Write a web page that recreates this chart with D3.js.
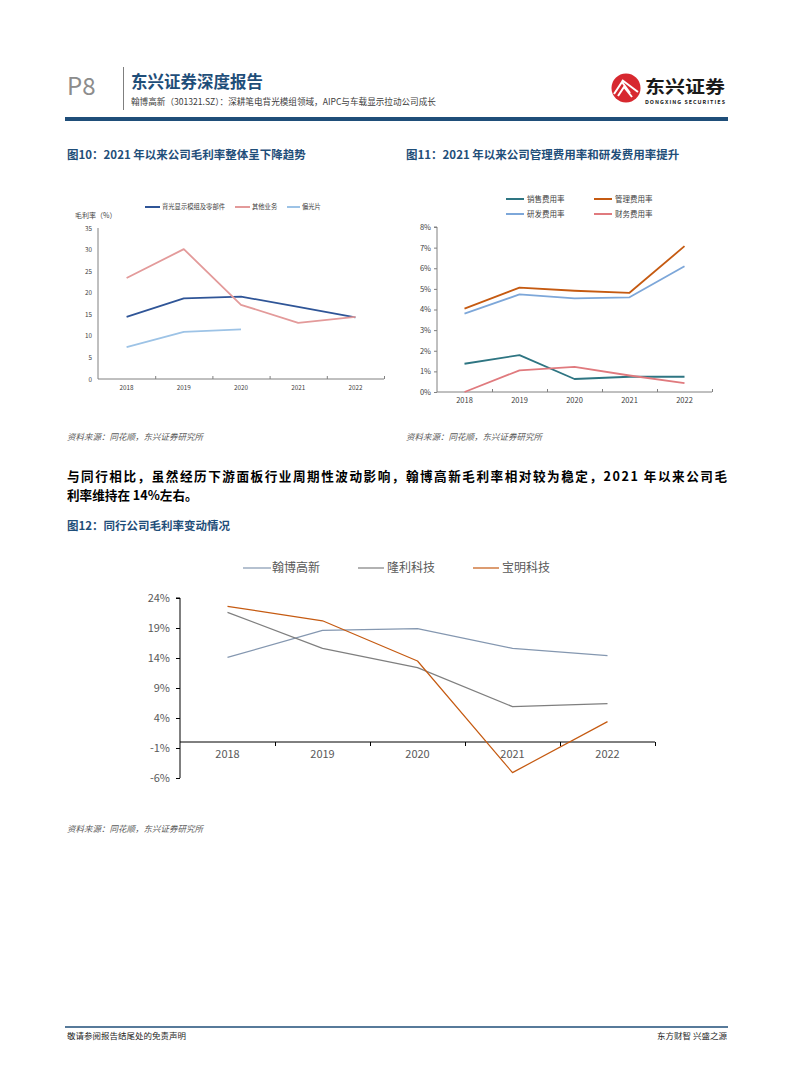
<!DOCTYPE html>
<html><head><meta charset="utf-8">
<script src="https://cdn.jsdelivr.net/npm/d3@7"></script>
<style>
body{margin:0;background:#fff;}
svg{display:block;}
text{font-family:"Noto Sans CJK SC","Noto Sans",sans-serif;}
</style></head>
<body>
<svg id="page" width="794" height="1077"></svg>
<script>
// ---------------- DATA ----------------
const years = ["2018","2019","2020","2021","2022"];

// Figure 10: gross margin by segment (%)
const f10Series = ["背光显示模组及零部件","其他业务","偏光片"];
const f10Backlight = [14.4, 18.7, 19.1, 16.7, 14.3];
const f10Other = [23.4, 30.1, 17.2, 13.0, 14.4];
const f10Polarizer = [7.4, 10.9, 11.5, null, null];
const f10Ticks = [0,5,10,15,20,25,30,35];

// Figure 11: expense ratios (%)
const f11Series = ["销售费用率","管理费用率","研发费用率","财务费用率"];
const f11Sales = [1.37, 1.79, 0.63, 0.74, 0.74];
const f11Admin = [4.04, 5.06, 4.91, 4.81, 7.07];
const f11RD = [3.80, 4.73, 4.54, 4.59, 6.10];
const f11Fin = [0.00, 1.05, 1.22, 0.80, 0.43];
const f11Ticks = [0,1,2,3,4,5,6,7,8];

// Figure 12: peers gross margin (%)
const f12Series = ["翰博高新","隆利科技","宝明科技"];
const f12Hanbo = [14.1, 18.6, 18.9, 15.6, 14.4];
const f12Longli = [21.6, 15.6, 12.4, 5.9, 6.4];
const f12Baoming = [22.6, 20.2, 13.5, -5.1, 3.4];
const f12Ticks = [24,19,14,9,4,-1,-6];

// ---------------- PAGE ----------------
const svg = d3.select("#page");
const navy = "#1F4E79";

// header
svg.append("text").attr("x",67).attr("y",95).attr("font-size",24).attr("fill","#8c8c8c")
  .attr("font-family","Liberation Sans, Arial, sans-serif").text("P8");
svg.append("line").attr("x1",123.5).attr("x2",123.5).attr("y1",67).attr("y2",110).attr("stroke","#7f7f7f").attr("stroke-width",1);
svg.append("text").attr("x",131).attr("y",88).attr("font-size",16.5).attr("font-weight","bold").attr("fill",navy).text("东兴证券深度报告");
svg.append("text").attr("x",131).attr("y",105).attr("font-size",8.6).attr("fill","#404040")
  .attr("font-family","Noto Serif CJK SC, Noto Sans CJK SC, serif").text("翰博高新（301321.SZ）：深耕笔电背光模组领域，AIPC与车载显示拉动公司成长");
svg.append("rect").attr("x",65).attr("y",117).attr("width",663).attr("height",4).attr("fill",navy);

// logo
const lg = svg.append("g");
lg.append("circle").attr("cx",626).attr("cy",88).attr("r",14.5).attr("fill","#D7282F");
lg.append("path").attr("d","M614,94 L622,82 L630,93 M618,96 L624,87 L632,97 M622,80 L638,92").attr("stroke","#fff").attr("stroke-width",2).attr("fill","none");
lg.append("text").attr("x",645).attr("y",93).attr("font-size",17.5).attr("font-weight","bold").attr("fill","#1a1a1a")
  .attr("textLength",80).attr("lengthAdjust","spacingAndGlyphs").text("东兴证券");
lg.append("text").attr("x",645).attr("y",104).attr("font-size",5.4).attr("font-weight","bold").attr("fill","#1a1a1a")
  .attr("font-family","Liberation Sans, Arial, sans-serif").attr("textLength",80).text("DONGXING SECURITIES");

// figure titles
function figTitle(x,y,t,fs){svg.append("text").attr("x",x).attr("y",y).attr("font-size",fs||11.5).attr("font-weight","bold").attr("fill",navy).text(t);}
figTitle(67,159,"图10：2021 年以来公司毛利率整体呈下降趋势");
figTitle(406,159,"图11：2021 年以来公司管理费用率和研发费用率提升");
figTitle(67,530,"图12：同行公司毛利率变动情况",11.5);

// sources
function src(x,y){svg.append("text").attr("x",x).attr("y",y).attr("font-size",8.5).attr("font-style","italic").attr("fill","#595959")
  .attr("font-family","Noto Serif CJK SC, Noto Sans CJK SC, serif").text("资料来源：同花顺，东兴证券研究所");}
src(67,440); src(406,440); src(67,832);

// body text
svg.append("text").attr("x",67).attr("y",481).attr("font-size",12.6).attr("font-weight","bold").attr("fill","#000")
  .attr("textLength",660).attr("lengthAdjust","spacing")
  .text("与同行相比，虽然经历下游面板行业周期性波动影响，翰博高新毛利率相对较为稳定，2021 年以来公司毛");
svg.append("text").attr("x",67).attr("y",500).attr("font-size",12.6).attr("font-weight","bold").attr("fill","#000").text("利率维持在 14%左右。");

// footer
svg.append("line").attr("x1",65).attr("x2",728).attr("y1",1027).attr("y2",1027).attr("stroke",navy).attr("stroke-width",1.5);
svg.append("text").attr("x",67).attr("y",1039).attr("font-size",8.5).attr("fill","#262626")
  .attr("font-family","Noto Serif CJK SC, Noto Sans CJK SC, serif").text("敬请参阅报告结尾处的免责声明");
svg.append("text").attr("x",727).attr("y",1039).attr("text-anchor","end").attr("font-size",8.5).attr("fill","#262626")
  .attr("font-family","Noto Serif CJK SC, Noto Sans CJK SC, serif").text("东方财智 兴盛之源");

// ---------------- CHART helper ----------------
function lineChart(o){
  const g = svg.append("g");
  const x = d3.scaleBand().domain(years).range([o.x0,o.x1]).padding(0);
  const xb = d3.scaleLinear().domain([0,years.length]).range([o.x0,o.x1]);
  const y = d3.scaleLinear().domain(o.yDomain).range(o.yRange);
  // y axis
  const ya = g.append("g").attr("transform",`translate(${o.x0},0)`)
    .call(d3.axisLeft(y).tickValues(o.yTicks).tickSize(o.yTickSize).tickPadding(o.yPad).tickFormat(o.yFmt));
  ya.select(".domain").attr("stroke",o.axisColor).attr("d",`M${-o.yTickSize},${y(o.yDomain[1])}H0V${y(o.yDomain[0])}`);
  ya.selectAll(".tick line").attr("stroke",o.axisColor);
  ya.selectAll("text").attr("font-size",o.yFs).attr("fill",o.labelColor).attr("font-family",o.font);
  // x axis line & separators
  const zeroY = y(0);
  const xa = g.append("g").attr("transform",`translate(0,${zeroY})`)
    .call(d3.axisBottom(xb).ticks(years.length).tickSize(o.xTickSize).tickFormat(""));
  xa.select(".domain").attr("stroke",o.axisColor).attr("d",`M${o.x0},0H${o.x1}`);
  xa.selectAll(".tick line").attr("stroke",o.axisColor);
  xa.selectAll(".tick").filter(d=>d===0).remove();
  // category labels
  const xl = g.append("g").attr("transform",`translate(0,${o.xLabelY})`)
    .call(d3.axisBottom(x).tickSize(0).tickPadding(0));
  xl.select(".domain").remove();
  xl.selectAll("text").attr("font-size",o.xFs).attr("fill",o.labelColor).attr("font-family",o.font).attr("dy","0.71em");
  // lines
  const line = d3.line().defined(d=>d[1]!=null).x(d=>x(d[0])+x.bandwidth()/2).y(d=>y(d[1]));
  o.series.forEach(s=>{
    g.append("path").datum(years.map((yr,i)=>[yr,s.values[i]]))
      .attr("d",line).attr("fill","none").attr("stroke",s.color).attr("stroke-width",o.lw).attr("stroke-linejoin","round");
  });
  return g;
}

function legendItem(x,y,len,color,label,fs,lw,tcolor,gap,font){
  svg.append("line").attr("x1",x).attr("x2",x+len).attr("y1",y).attr("y2",y).attr("stroke",color).attr("stroke-width",lw);
  const t = svg.append("text").attr("x",x+len+gap).attr("y",y).attr("dy","0.35em").attr("font-size",fs).attr("fill",tcolor).text(label);
  if(font) t.attr("font-family",font);
}

// ---------------- FIGURE 10 ----------------
const c10 = ["#2F5597","#E39A9A","#9DC3E6"];
lineChart({
  x0:98,x1:384,yDomain:[0,35],yRange:[379,228],yTicks:f10Ticks,yTickSize:0,yPad:6,yFmt:d3.format("d"),
  yFs:6.3,xFs:6.3,xLabelY:386,xTickSize:-3,axisColor:"#808080",labelColor:"#404040",
  font:"Liberation Serif, serif",lw:1.8,
  series:[{values:f10Backlight,color:c10[0]},{values:f10Other,color:c10[1]},{values:f10Polarizer,color:c10[2]}]
});
legendItem(145,207,15,c10[0],f10Series[0],6.3,2,"#404040",2);
legendItem(235,207,15,c10[1],f10Series[1],6.3,2,"#404040",2);
legendItem(287,207,13,c10[2],f10Series[2],6.3,2,"#404040",2);
svg.append("text").attr("x",75).attr("y",218).attr("font-size",7).attr("fill","#404040").text("毛利率（%）");

// ---------------- FIGURE 11 ----------------
const c11 = ["#2E7582","#C55A11","#7DA7D9","#E07A7E"];
lineChart({
  x0:437,x1:712,yDomain:[0,8],yRange:[392,227],yTicks:f11Ticks,yTickSize:3,yPad:3,yFmt:d=>d+"%",
  yFs:7.5,xFs:7.5,xLabelY:398,xTickSize:-3,axisColor:"#808080",labelColor:"#404040",
  font:"Liberation Sans, Arial, sans-serif",lw:1.8,
  series:[{values:f11Sales,color:c11[0]},{values:f11Admin,color:c11[1]},{values:f11RD,color:c11[2]},{values:f11Fin,color:c11[3]}]
});
legendItem(506,199,18,c11[0],f11Series[0],7.5,2,"#404040",3);
legendItem(594,199,18,c11[1],f11Series[1],7.5,2,"#404040",3);
legendItem(506,214,18,c11[2],f11Series[2],7.5,2,"#404040",3);
legendItem(594,214,18,c11[3],f11Series[3],7.5,2,"#404040",3);

// ---------------- FIGURE 12 ----------------
const c12 = ["#8497B0","#7F7F7F","#C55A11"];
lineChart({
  x0:180,x1:655,yDomain:[-6,24],yRange:[778,598],yTicks:f12Ticks,yTickSize:4,yPad:6,yFmt:d=>d+"%",
  yFs:11,xFs:11,xLabelY:750,xTickSize:4,axisColor:"#000",labelColor:"#595959",
  font:"Liberation Sans Narrow, Liberation Sans, Arial, sans-serif",lw:1.2,
  series:[{values:f12Hanbo,color:c12[0]},{values:f12Longli,color:c12[1]},{values:f12Baoming,color:c12[2]}]
});
legendItem(243,568,28,c12[0],f12Series[0],12,1.2,"#595959",1);
legendItem(358,568,26,c12[1],f12Series[1],12,1.2,"#595959",3);
legendItem(473,568,26,c12[2],f12Series[2],12,1.2,"#595959",3);
</script>
</body></html>
